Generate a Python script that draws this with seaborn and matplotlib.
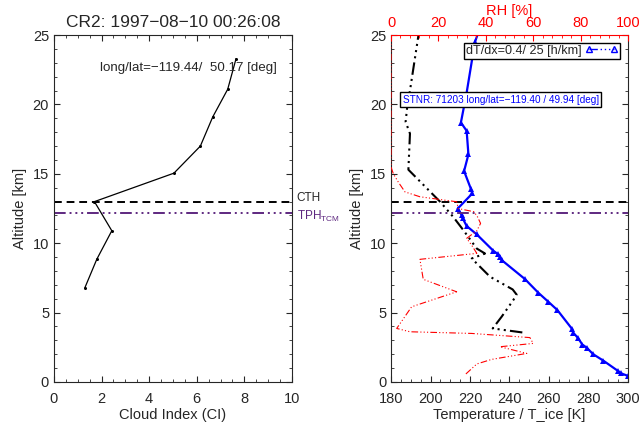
import pandas as pd
import matplotlib
matplotlib.use("Agg")
import matplotlib.pyplot as plt
from matplotlib.lines import Line2D
from matplotlib.ticker import MultipleLocator
import seaborn as sns

# cloud index profile (left panel)
ci_alt = [6.8, 8.85, 10.9, 13.0, 15.05, 17.0, 19.1, 21.1, 23.3]
ci_val = [1.3, 1.8, 2.43, 1.7, 5.04, 6.15, 6.67, 7.3, 7.65]

# radiosonde temperature (blue)
temp_alt = [0.43, 0.62, 0.81, 1.54, 2.0, 2.47, 2.7, 3.2, 3.55, 3.8, 5.19, 5.79, 6.43, 7.42,
            8.79, 9.03, 9.2, 9.46, 10.64, 11.24, 11.8, 12.03, 12.5, 13.59, 13.9, 15.2, 16.4,
            18.1, 18.7, 20.85, 24.5, 25.5]
temp_val = [300.2, 296.5, 294.8, 287.5, 282.4, 279.1, 276.9, 274.5, 272.3, 271.8, 264.2, 259.6,
            254.6, 247.8, 236.0, 235.2, 234.3, 231.8, 223.4, 218.3, 216.3, 215.8, 213.8, 221.2,
            220.5, 217.0, 219.2, 218.3, 215.4, 218.3, 222.5, 225.0]

# T_ice (black dash-dot-dot)
tice_alt = [3.57, 3.86, 4.7, 5.9, 6.3, 6.67, 7.59, 8.9, 9.26, 9.62, 10.95, 11.9, 13.0, 15.3,
            17.9, 18.75, 19.95, 21.0, 24.9, 25.5]
tice_val = [246.5, 231.5, 236.0, 241.9, 243.6, 241.6, 230.1, 220.9, 227.6, 223.4, 216.6, 211.5,
            204.8, 188.8, 189.6, 187.4, 188.3, 189.6, 193.8, 194.5]

# relative humidity (red, top axis)
rh_alt = [0.58, 1.3, 1.63, 2.06, 2.54, 2.78, 3.2, 3.5, 3.62, 3.86, 5.42, 6.5, 7.4, 8.84, 9.27,
          9.87, 10.35, 10.9, 11.43, 11.9, 12.27, 12.5, 12.99, 13.35, 13.7, 14.4, 15.0, 15.5, 25.0]
rh_val = [31.6, 36.2, 42.5, 57.3, 46.0, 60.0, 58.6, 34.0, 8.0, 2.4, 8.7, 27.7, 13.6, 12.2, 36.2,
          34.0, 31.9, 36.2, 37.8, 36.5, 35.0, 28.4, 27.7, 12.2, 5.9, 3.1, 1.0, 0.0, 0.0]

cth = 13.0
tph = 12.2
purple = "#5e2880"
dadd = (0, (6, 2, 1, 2, 1, 2, 1, 2))

sns.set_style("ticks")
plt.rcParams["font.family"] = ["Liberation Sans", "DejaVu Sans"]
plt.rcParams["font.size"] = 8.5

fig = plt.figure(figsize=(6.41, 4.22), dpi=100)
ax1 = fig.add_axes([0.0842, 0.0948, 0.3713, 0.822])
ax_r = fig.add_axes([0.61, 0.0948, 0.3697, 0.822])

# ---------------- left panel
sns.lineplot(x=ci_val, y=ci_alt, sort=False, estimator=None, color="black", lw=0.9,
             marker="o", markersize=2.2, markeredgewidth=0, ax=ax1)
ax1.axhline(cth, color="black", ls=(0, (4, 2.5)), lw=1.4)
ax1.axhline(tph, color=purple, ls=dadd, lw=1.4)
ax1.set_xlim(0, 10)
ax1.set_ylim(0, 25)
ax1.xaxis.set_major_locator(MultipleLocator(2))
ax1.xaxis.set_minor_locator(MultipleLocator(0.5))
ax1.yaxis.set_major_locator(MultipleLocator(5))
ax1.yaxis.set_minor_locator(MultipleLocator(1))
ax1.tick_params(which="both", direction="in", top=True, right=True, labelsize=10.5)
ax1.tick_params(which="major", length=4)
ax1.tick_params(which="minor", length=2)
ax1.tick_params(axis="x", pad=7)
ax1.set_xlabel("Cloud Index (CI)", fontsize=10.5, labelpad=2)
ax1.set_ylabel("Altitude [km]", fontsize=10.5)
ax1.set_title("CR2: 1997\u221208\u221210 00:26:08", fontsize=12.5, pad=6)
ax1.text(1.93, 22.6, "long/lat=\u2212119.44/  50.17 [deg]", fontsize=9.6, va="center")
ax1.text(1.02, cth + 0.25, "CTH", transform=ax1.get_yaxis_transform(), fontsize=8.5,
         va="center", clip_on=False)
ax1.text(1.02, tph - 0.3, "TPH$_{\\mathregular{TCM}}$", transform=ax1.get_yaxis_transform(),
         fontsize=8.5, color=purple, va="center", clip_on=False)

# ---------------- right panel
sns.lineplot(x=tice_val, y=tice_alt, sort=False, estimator=None, color="black", lw=1.5,
             ls=dadd, ax=ax_r)
sns.lineplot(x=temp_val, y=temp_alt, sort=False, estimator=None, color="blue", lw=1.6,
             marker="^", markersize=5, markeredgewidth=0, ax=ax_r)
ax_r.axhline(cth, color="black", ls=(0, (4, 2.5)), lw=1.4)
ax_r.axhline(tph, color=purple, ls=dadd, lw=1.4)
ax_r.set_xlim(180, 300)
ax_r.set_ylim(0, 25)
ax_r.xaxis.set_major_locator(MultipleLocator(20))
ax_r.xaxis.set_minor_locator(MultipleLocator(5))
ax_r.yaxis.set_major_locator(MultipleLocator(5))
ax_r.yaxis.set_minor_locator(MultipleLocator(1))
ax_r.tick_params(which="both", direction="in", right=True, top=False, labelsize=10.5)
ax_r.tick_params(which="major", length=4)
ax_r.tick_params(which="minor", length=2)
ax_r.tick_params(axis="x", pad=7)
ax_r.set_xlabel("Temperature / T_ice [K]", fontsize=10.5, labelpad=2)
ax_r.set_ylabel("Altitude [km]", fontsize=10.5)
ax_r.spines["top"].set_visible(False)

leg_handle = Line2D([], [], color="blue", ls=dadd, lw=1, marker="^", markersize=5,
                    markerfacecolor="none", markeredgecolor="blue")
leg = ax_r.legend([leg_handle], ["dT/dx=0.4/ 25 [h/km]"], loc="upper right",
                  bbox_to_anchor=(0.966, 0.978), borderaxespad=0, borderpad=0.15,
                  handlelength=2.6, handletextpad=0.3, markerfirst=False, numpoints=2,
                  fancybox=False, framealpha=1, edgecolor="black", fontsize=9.1)
leg.get_frame().set_linewidth(1.0)
leg.set_zorder(5)

ax_r.text(186, 20.35, "STNR: 71203 long/lat=\u2212119.40 / 49.94 [deg]", color="blue",
          fontsize=7.2, va="center", zorder=6,
          bbox=dict(boxstyle="square,pad=0.25", facecolor="white", edgecolor="black", lw=1.0))

ax2 = ax_r.twiny()
sns.lineplot(x=rh_val, y=rh_alt, sort=False, estimator=None, color="red", lw=0.8,
             ls=dadd, ax=ax2)
ax2.set_xlim(0, 100)
ax2.set_ylim(0, 25)
ax2.xaxis.set_major_locator(MultipleLocator(20))
ax2.xaxis.set_minor_locator(MultipleLocator(4))
ax2.tick_params(axis="x", which="both", direction="in", colors="red", labelsize=10.5)
ax2.tick_params(axis="x", which="major", length=4)
ax2.tick_params(axis="x", which="minor", length=2)
ax2.set_xlabel("RH [%]", color="red", fontsize=10.5, labelpad=1)
for s in ["bottom", "left", "right"]:
    ax2.spines[s].set_visible(False)
ax2.spines["top"].set_color("red")

fig.savefig("out.png", dpi=100)
